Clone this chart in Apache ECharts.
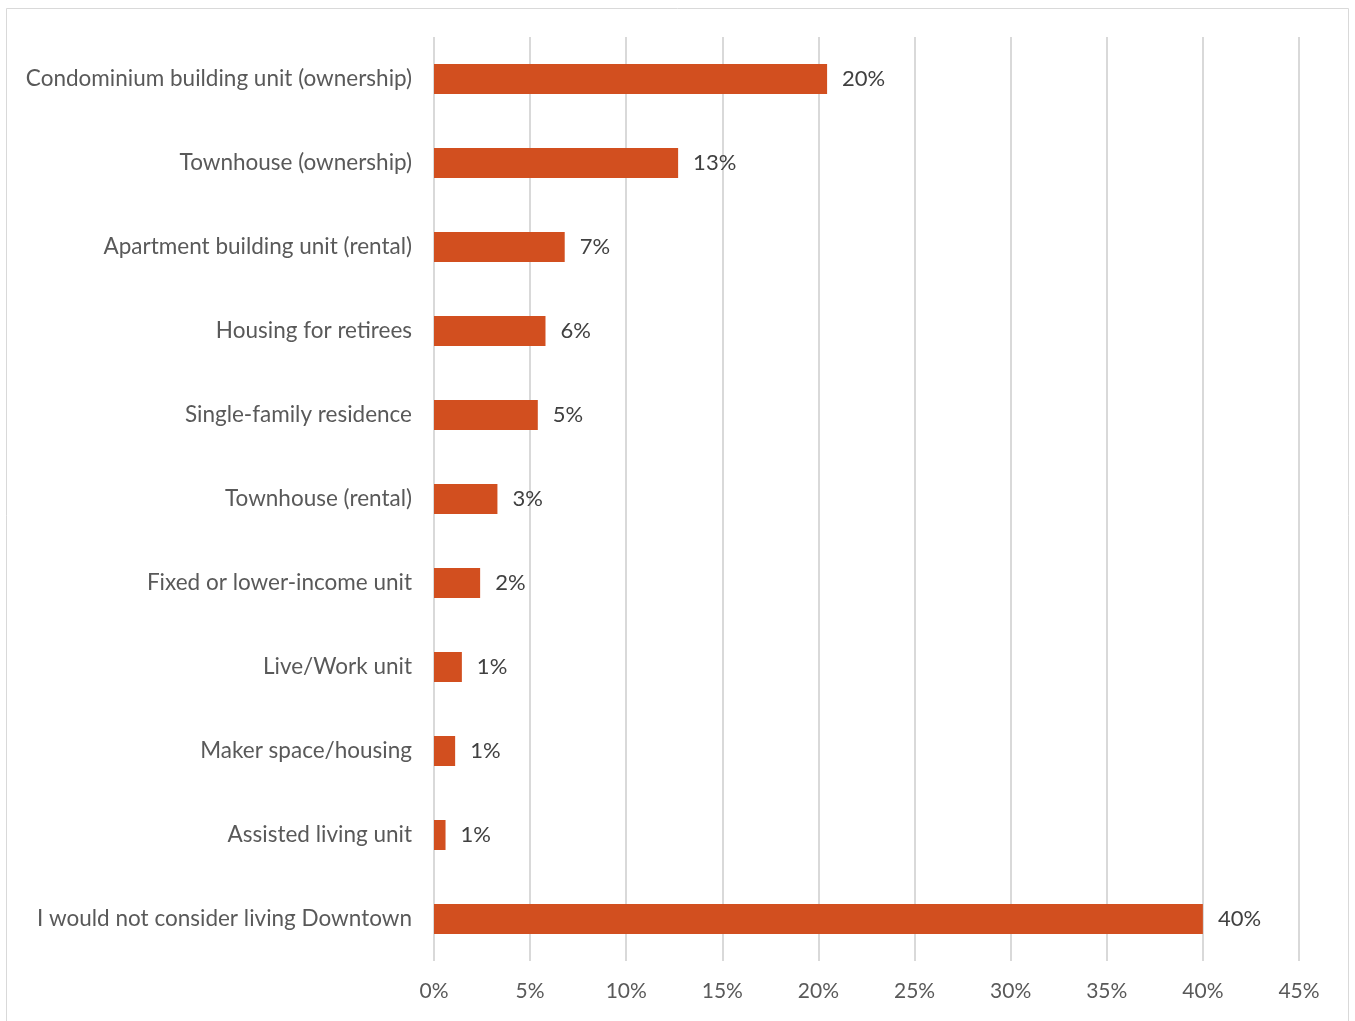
<!DOCTYPE html>
<html>
<head>
<meta charset="utf-8">
<script src="https://cdn.jsdelivr.net/npm/echarts@6/dist/echarts.min.js"></script>
<style>
  html, body { margin: 0; padding: 0; background: #fff; }
  #chart { width: 1355px; height: 1021px; }
</style>
</head>
<body>
<div id="chart"></div>
<script>
// Preferred downtown housing types (share of respondents, %)
const categories = [
  'Condominium building unit (ownership)',
  'Townhouse (ownership)',
  'Apartment building unit (rental)',
  'Housing for retirees',
  'Single-family residence',
  'Townhouse (rental)',
  'Fixed or lower-income unit',
  'Live/Work unit',
  'Maker space/housing',
  'Assisted living unit',
  'I would not consider living Downtown'
];
const shares = [20.45, 12.7, 6.8, 5.8, 5.4, 3.3, 2.4, 1.45, 1.1, 0.6, 40.0];
const axisMax = 45;
const axisStep = 5;

const fontFamily = 'Lato, "Open Sans", sans-serif';

const chart = echarts.init(document.getElementById('chart'), null, { renderer: 'canvas' });
chart.setOption({
  animation: false,
  backgroundColor: '#fff',
  graphic: [{
    type: 'rect',
    shape: { x: 6.5, y: 8.5, width: 1342, height: 1030 },
    style: { fill: 'none', stroke: '#d9d9d9', lineWidth: 1 },
    silent: true
  }],
  grid: { left: 434, right: 56, top: 37, bottom: 60, containLabel: false },
  xAxis: {
    type: 'value',
    min: 0,
    max: axisMax,
    interval: axisStep,
    axisLine: { show: false },
    axisTick: { show: false },
    splitLine: { show: true, lineStyle: { color: '#d9d9d9', width: 2 } },
    axisLabel: {
      formatter: v => v + '%',
      color: '#595959',
      fontSize: 21,
      fontFamily: fontFamily,
      margin: 20
    }
  },
  yAxis: {
    type: 'category',
    data: categories,
    inverse: true,
    axisLine: { show: false },
    axisTick: { show: false },
    axisLabel: {
      color: '#595959',
      fontSize: 22.5,
      fontFamily: fontFamily,
      margin: 22
    }
  },
  series: [{
    type: 'bar',
    data: shares,
    barWidth: 30,
    itemStyle: { color: '#d24f1f' },
    label: {
      show: true,
      position: 'right',
      distance: 15,
      formatter: p => Math.round(p.value) + '%',
      color: '#404040',
      fontSize: 22,
      fontFamily: fontFamily
    }
  }]
});
</script>
</body>
</html>
